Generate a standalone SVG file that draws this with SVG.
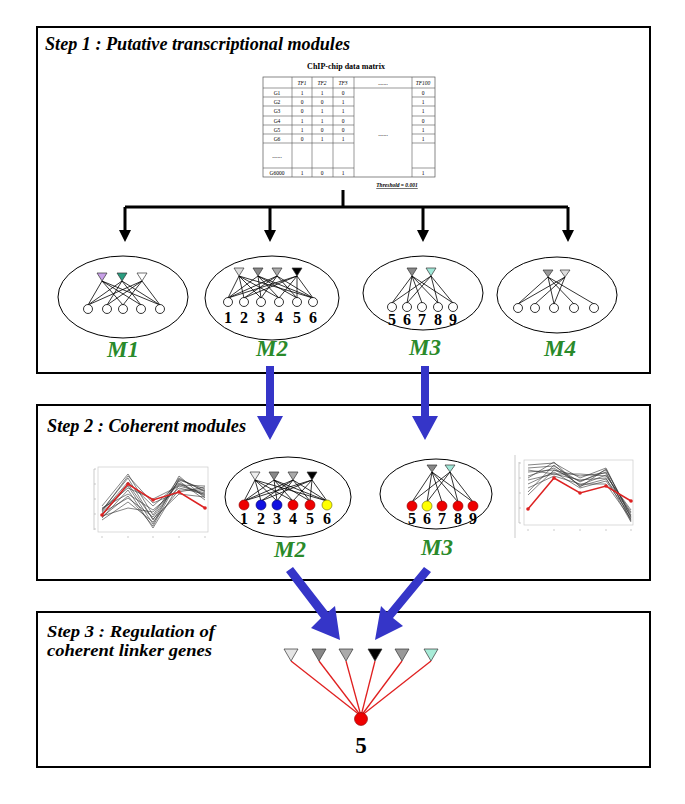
<svg xmlns="http://www.w3.org/2000/svg" width="685" height="804" viewBox="0 0 685 804">
<defs>
<style>
.box{fill:#fff;stroke:#000;stroke-width:2}
.title{font-family:"Liberation Serif",serif;font-weight:bold;font-style:italic;fill:#000}
.ml{font-family:"Liberation Serif",serif;font-weight:bold;font-style:italic;fill:#2a8a2a;font-size:23px;text-anchor:middle}
.num{font-family:"Liberation Serif",serif;font-weight:bold;font-size:16px;text-anchor:middle;fill:#000}
.big{font-family:"Liberation Serif",serif;font-weight:bold;font-size:23px;text-anchor:middle;fill:#000}
.ell{fill:#fff;stroke:#000;stroke-width:1}
.e{stroke:#000;stroke-width:0.8}
.c{fill:#fff;stroke:#000;stroke-width:0.8}
.tri{stroke:#333;stroke-width:0.7}
.tb{font-family:"Liberation Serif",serif;font-size:5.5px;text-anchor:middle;fill:#000}
.tl{stroke:#555;stroke-width:0.6;fill:none}
.gl{stroke:#333;stroke-width:0.6;fill:none}
.rl{stroke:#d22;stroke-width:1.5;fill:none}
.blk{stroke:#000;stroke-width:3;fill:none}
.blue{fill:#3535c8}
.red{fill:#e00;stroke:#800;stroke-width:0.6}
.bl{fill:#1010e0;stroke:#006;stroke-width:0.6}
.yel{fill:#ff0;stroke:#660;stroke-width:0.6}
.rline{stroke:#e02020;stroke-width:1.3}
</style>
</defs>

<!-- boxes -->
<rect class="box" x="37" y="27" width="613" height="346"/>
<rect class="box" x="37" y="405" width="613" height="175"/>
<rect class="box" x="37" y="612" width="613" height="155"/>

<text class="title" x="45" y="50" font-size="19" textLength="305" lengthAdjust="spacingAndGlyphs">Step 1 : Putative transcriptional modules</text>
<text class="title" x="47" y="432" font-size="18" textLength="199" lengthAdjust="spacingAndGlyphs">Step 2 : Coherent modules</text>
<text class="title" x="47" y="637" font-size="16" textLength="168" lengthAdjust="spacingAndGlyphs">Step 3 : Regulation of</text>
<text class="title" x="47" y="656" font-size="16" textLength="165" lengthAdjust="spacingAndGlyphs">coherent linker genes</text>

<!-- ChIP-chip table -->
<g id="matrix">
<text x="346" y="69" font-family="Liberation Serif,serif" font-weight="bold" font-size="8" text-anchor="middle">ChIP-chip data matrix</text>
<rect x="263" y="77" width="172" height="100" fill="#fff" stroke="#555" stroke-width="0.7"/>
<g class="tl">
<line x1="292" y1="77" x2="292" y2="177"/><line x1="312" y1="77" x2="312" y2="177"/>
<line x1="333" y1="77" x2="333" y2="177"/><line x1="354" y1="77" x2="354" y2="177"/>
<line x1="412" y1="77" x2="412" y2="177"/>
<line x1="263" y1="88" x2="435" y2="88"/>
<path d="M263 97H354M412 97H435M263 106H354M412 106H435M263 116H354M412 116H435M263 125H354M412 125H435M263 134H354M412 134H435M263 143H354M412 143H435M263 168H354M412 168H435"/>
</g>
<g class="tb" font-style="italic">
<text x="302" y="84.5">TF1</text><text x="322" y="84.5">TF2</text><text x="343" y="84.5">TF3</text><text x="383" y="84.5">.......</text><text x="423" y="84.5">TF100</text>
</g>
<g class="tb">
<text x="277" y="94.5">G1</text><text x="302" y="94.5">1</text><text x="322" y="94.5">1</text><text x="343" y="94.5">0</text><text x="423" y="94.5">0</text>
<text x="277" y="103.5">G2</text><text x="302" y="103.5">0</text><text x="322" y="103.5">0</text><text x="343" y="103.5">1</text><text x="423" y="103.5">1</text>
<text x="277" y="113">G3</text><text x="302" y="113">0</text><text x="322" y="113">1</text><text x="343" y="113">1</text><text x="423" y="113">1</text>
<text x="277" y="122.5">G4</text><text x="302" y="122.5">1</text><text x="322" y="122.5">1</text><text x="343" y="122.5">0</text><text x="423" y="122.5">0</text>
<text x="277" y="131.5">G5</text><text x="302" y="131.5">1</text><text x="322" y="131.5">0</text><text x="343" y="131.5">0</text><text x="423" y="131.5">1</text>
<text x="277" y="140.5">G6</text><text x="302" y="140.5">0</text><text x="322" y="140.5">1</text><text x="343" y="140.5">1</text><text x="423" y="140.5">1</text>
<text x="277" y="158">.......</text><text x="383" y="136">.......</text>
<text x="277" y="174.5">G6000</text><text x="302" y="174.5">1</text><text x="322" y="174.5">0</text><text x="343" y="174.5">1</text><text x="423" y="174.5">1</text>
</g>
<text x="397" y="187" font-family="Liberation Serif,serif" font-weight="bold" font-style="italic" font-size="5.5" text-anchor="middle" text-decoration="underline">Threshold = 0.001</text>
</g>

<!-- connectors -->
<g id="connectors">
<path class="blk" d="M343 190V207M125 207H568M125 207V232M270 207V232M423 207V232M568 207V232"/>
<path d="M119 230H131L125 242Z M264 230H276L270 242Z M417 230H429L423 242Z M562 230H574L568 242Z" fill="#000"/>
<path class="blue" d="M266 366H274V416H283L270 440L257 416H266Z"/>
<path class="blue" d="M421 366H429V416H438L425 440L412 416H421Z"/>
<path class="blue" d="M286 572L293 567L328 612L335 606L340 640L311 628L321 618Z"/>
<path class="blue" d="M424 567L431 572L393 618L403 626L375 640L381 606L387 612Z"/>
<g class="rline">
<line x1="291" y1="661" x2="361" y2="716"/><line x1="319" y1="661" x2="361" y2="716"/>
<line x1="346" y1="661" x2="361" y2="716"/><line x1="375" y1="661" x2="361" y2="716"/>
<line x1="402" y1="661" x2="361" y2="716"/><line x1="431" y1="661" x2="361" y2="716"/>
</g>
</g>

<!-- M1 -->
<g id="M1">
<ellipse class="ell" cx="123" cy="297" rx="65" ry="41"/>
<g class="e">
<path d="M102 281L88 305M102 281L123 305M102 281L141 305M102 281L160 305M122 281L88 305M122 281L107 305M122 281L141 305M122 281L160 305M142 281L88 305M142 281L107 305M142 281L123 305M142 281L160 305"/>
</g>
<path class="tri" fill="#c8a0e8" d="M97 273H107L102 281Z"/>
<path class="tri" fill="#2a9d80" d="M117 273H127L122 281Z"/>
<path class="tri" fill="#fff" d="M137 273H147L142 281Z"/>
<circle class="c" cx="88" cy="309" r="4.5"/><circle class="c" cx="107" cy="309" r="4.5"/><circle class="c" cx="123" cy="309" r="4.5"/><circle class="c" cx="141" cy="309" r="4.5"/><circle class="c" cx="160" cy="309" r="4.5"/>
<text class="ml" x="123" y="357">M1</text>
</g>

<!-- M2 step1 -->
<g id="M2">
<ellipse class="ell" cx="272" cy="298" rx="67" ry="42"/>
<g class="e">
<path d="M239 276L228 298M239 276L244 298M239 276L261 298M239 276L279 298M239 276L313 298M258 276L228 298M258 276L261 298M258 276L279 298M258 276L297 298M258 276L313 298M277 276L228 298M277 276L244 298M277 276L261 298M277 276L297 298M277 276L313 298M297 276L228 298M297 276L244 298M297 276L279 298M297 276L297 298M297 276L313 298"/>
</g>
<path class="tri" fill="#ddd" d="M234 268H244L239 276Z"/>
<path class="tri" fill="#888" d="M253 268H263L258 276Z"/>
<path class="tri" fill="#aaa" d="M272 268H282L277 276Z"/>
<path class="tri" fill="#000" d="M292 268H302L297 276Z"/>
<circle class="c" cx="228" cy="302" r="4.5"/><circle class="c" cx="244" cy="302" r="4.5"/><circle class="c" cx="261" cy="302" r="4.5"/><circle class="c" cx="279" cy="302" r="4.5"/><circle class="c" cx="297" cy="302" r="4.5"/><circle class="c" cx="313" cy="302" r="4.5"/>
<text class="num" x="228" y="323">1</text><text class="num" x="244" y="323">2</text><text class="num" x="261" y="323">3</text><text class="num" x="279" y="323">4</text><text class="num" x="297" y="323">5</text><text class="num" x="313" y="323">6</text>
<text class="ml" x="272" y="356">M2</text>
</g>

<!-- M3 step1 -->
<g id="M3">
<ellipse class="ell" cx="423" cy="293" rx="60" ry="37"/>
<g class="e">
<path d="M412 276L392 303M412 276L407 303M412 276L422 303M412 276L438 303M412 276L453 303M431 276L392 303M431 276L407 303M431 276L438 303M431 276L453 303"/>
</g>
<path class="tri" fill="#888" d="M407 268H417L412 276Z"/>
<path class="tri" fill="#a0e8d8" d="M426 268H436L431 276Z"/>
<circle class="c" cx="392" cy="307" r="4.5"/><circle class="c" cx="407" cy="307" r="4.5"/><circle class="c" cx="422" cy="307" r="4.5"/><circle class="c" cx="438" cy="307" r="4.5"/><circle class="c" cx="453" cy="307" r="4.5"/>
<text class="num" x="392" y="325">5</text><text class="num" x="407" y="325">6</text><text class="num" x="422" y="325">7</text><text class="num" x="438" y="325">8</text><text class="num" x="453" y="325">9</text>
<text class="ml" x="425" y="355">M3</text>
</g>

<!-- M4 -->
<g id="M4">
<ellipse class="ell" cx="557" cy="295" rx="60" ry="38"/>
<g class="e">
<path d="M548 277L518 304M548 277L554 304M548 277L574 304M548 277L594 304M565 277L518 304M565 277L535 304M565 277L554 304"/>
</g>
<path class="tri" fill="#999" d="M543 270H553L548 277Z"/>
<path class="tri" fill="#ddd" d="M560 270H570L565 277Z"/>
<circle class="c" cx="518" cy="308" r="4.5"/><circle class="c" cx="535" cy="308" r="4.5"/><circle class="c" cx="554" cy="308" r="4.5"/><circle class="c" cx="574" cy="308" r="4.5"/><circle class="c" cx="594" cy="308" r="4.5"/>
<text class="ml" x="560" y="356">M4</text>
</g>

<!-- left chart -->
<g id="chart-left">
<rect x="98" y="467" width="110" height="65" fill="#fff" stroke="#ccc" stroke-width="0.7"/>
<path d="M94 469V530M94 469h2M94 484h2M94 499h2M94 514h2M94 529h2M102 536v2M128 536v2M153 536v2M179 536v2M205 536v2" stroke="#aaa" stroke-width="0.6" fill="none"/>
<g class="gl">
<polyline points="102,506 128,474 153,515 179,478 205,492"/>
<polyline points="102,510 128,478 153,520 179,480 205,489"/>
<polyline points="102,512 128,482 153,506 179,483 205,495"/>
<polyline points="102,515 128,486 153,524 179,476 205,498"/>
<polyline points="102,518 128,490 153,528 179,485 205,486"/>
<polyline points="102,508 128,494 153,510 179,488 205,494"/>
<polyline points="102,513 128,498 153,517 179,481 205,500"/>
<polyline points="102,520 128,502 153,522 179,490 205,490"/>
<polyline points="102,516 128,508 153,512 179,484 205,496"/>
<polyline points="102,511 128,476 153,503 179,492 205,487"/>
<polyline points="102,509 128,488 153,499 179,486 205,493"/>
<polyline points="102,517 128,496 153,526 179,479 205,491"/>
<polyline points="102,514 128,484 153,519 179,494 205,497"/>
</g>
<polyline class="rl" points="102,515 128,484 153,500 179,492 205,508"/>
<g fill="#d22"><circle cx="102" cy="515" r="1.8"/><circle cx="128" cy="484" r="1.8"/><circle cx="153" cy="500" r="1.8"/><circle cx="179" cy="492" r="1.8"/><circle cx="205" cy="508" r="1.8"/></g>
</g>

<!-- M2 step2 -->
<g id="M2-coherent">
<ellipse class="ell" cx="288" cy="497" rx="63" ry="40"/>
<g class="e">
<path d="M255 480L244 501M255 480L261 501M255 480L277 501M255 480L293 501M255 480L327 501M274 480L244 501M274 480L277 501M274 480L293 501M274 480L310 501M274 480L327 501M293 480L244 501M293 480L261 501M293 480L277 501M293 480L310 501M293 480L327 501M312 480L244 501M312 480L261 501M312 480L293 501M312 480L310 501M312 480L327 501"/>
</g>
<path class="tri" fill="#eee" d="M250 472H260L255 480Z"/>
<path class="tri" fill="#888" d="M269 472H279L274 480Z"/>
<path class="tri" fill="#aaa" d="M288 472H298L293 480Z"/>
<path class="tri" fill="#000" d="M307 472H317L312 480Z"/>
<circle class="red" cx="244" cy="505" r="5"/><circle class="bl" cx="261" cy="505" r="5"/><circle class="bl" cx="277" cy="505" r="5"/><circle class="red" cx="293" cy="505" r="5"/><circle class="red" cx="310" cy="505" r="5"/><circle class="yel" cx="327" cy="505" r="5"/>
<text class="num" x="244" y="524">1</text><text class="num" x="261" y="524">2</text><text class="num" x="277" y="524">3</text><text class="num" x="293" y="524">4</text><text class="num" x="310" y="524">5</text><text class="num" x="327" y="524">6</text>
<text class="ml" x="290" y="557">M2</text>
</g>

<!-- M3 step2 -->
<g id="M3-coherent">
<ellipse class="ell" cx="436" cy="494" rx="56" ry="35"/>
<g class="e">
<path d="M432 472L412 502M432 472L427 502M432 472L442 502M432 472L458 502M432 472L473 502M450 472L412 502M450 472L427 502M450 472L458 502M450 472L473 502"/>
</g>
<path class="tri" fill="#888" d="M427 465H437L432 472Z"/>
<path class="tri" fill="#a0e8d8" d="M445 465H455L450 472Z"/>
<circle class="red" cx="412" cy="506" r="5"/><circle class="yel" cx="427" cy="506" r="5"/><circle class="red" cx="442" cy="506" r="5"/><circle class="red" cx="458" cy="506" r="5"/><circle class="red" cx="473" cy="506" r="5"/>
<text class="num" x="412" y="524">5</text><text class="num" x="427" y="524">6</text><text class="num" x="442" y="524">7</text><text class="num" x="458" y="524">8</text><text class="num" x="473" y="524">9</text>
<text class="ml" x="437" y="555">M3</text>
</g>

<!-- right chart -->
<g id="chart-right">
<rect x="524" y="460" width="109" height="65" fill="#fff" stroke="#ccc" stroke-width="0.7"/>
<path d="M519 462V523M519 463h2M519 478h2M519 493h2M519 508h2M519 523h2M528 529v2M554 529v2M580 529v2M606 529v2M631 529v2M515 455V538" stroke="#aaa" stroke-width="0.6" fill="none"/>
<g class="gl">
<polyline points="528,465 554,463 580,478 606,468 631,518"/>
<polyline points="528,468 554,466 580,482 606,470 631,515"/>
<polyline points="528,472 554,470 580,476 606,473 631,520"/>
<polyline points="528,476 554,468 580,485 606,475 631,512"/>
<polyline points="528,480 554,474 580,480 606,478 631,522"/>
<polyline points="528,484 554,472 580,488 606,481 631,516"/>
<polyline points="528,488 554,476 580,484 606,484 631,519"/>
<polyline points="528,492 554,465 580,486 606,479 631,513"/>
<polyline points="528,495 554,470 580,481 606,472 631,521"/>
<polyline points="528,470 554,474 580,474 606,476 631,510"/>
<polyline points="528,478 554,462 580,487 606,469 631,517"/>
</g>
<polyline class="rl" points="528,509 554,478 580,493 606,486 631,501"/>
<g fill="#d22"><circle cx="528" cy="509" r="1.8"/><circle cx="554" cy="478" r="1.8"/><circle cx="580" cy="493" r="1.8"/><circle cx="606" cy="486" r="1.8"/><circle cx="631" cy="501" r="1.8"/></g>
</g>

<!-- step 3 -->
<g id="linker">
<path class="tri" fill="#e4e4e4" d="M284 649H298L291 661Z"/>
<path class="tri" fill="#888" d="M312 649H326L319 661Z"/>
<path class="tri" fill="#aaa" d="M339 649H353L346 661Z"/>
<path class="tri" fill="#000" d="M368 649H382L375 661Z"/>
<path class="tri" fill="#999" d="M395 649H409L402 661Z"/>
<path class="tri" fill="#a8ecd8" d="M424 649H438L431 661Z"/>
<circle class="red" cx="361" cy="719" r="6.5"/>
<text class="big" x="361" y="753">5</text>
</g>
</svg>
